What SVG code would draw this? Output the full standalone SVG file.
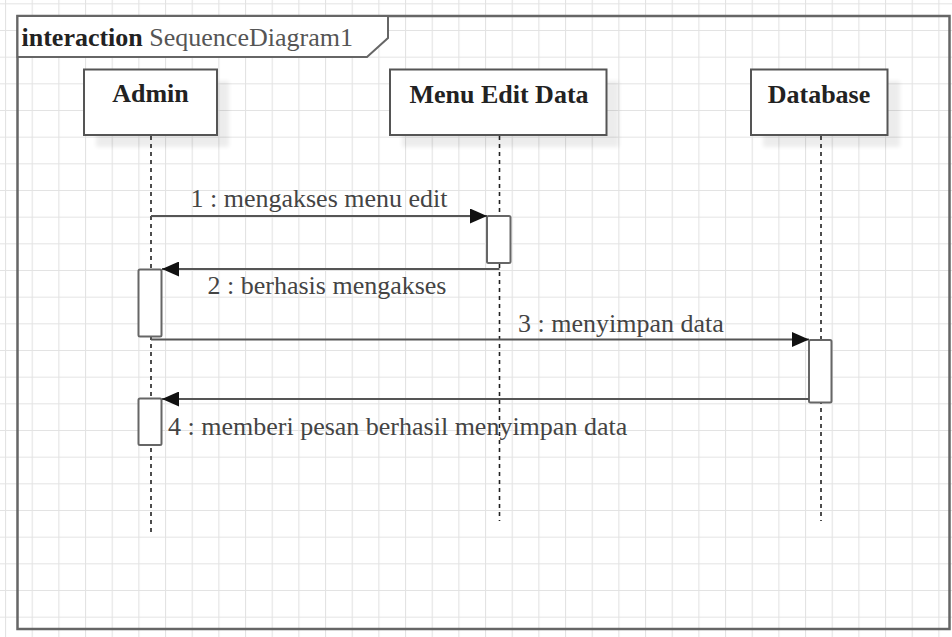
<svg xmlns="http://www.w3.org/2000/svg" width="952" height="637" viewBox="0 0 952 637">
  <defs>
    <pattern id="grid" patternUnits="userSpaceOnUse" x="5" y="3.33" width="26.667" height="26.667">
      <path d="M0 0.5 H26.667 M0.5 0 V26.667" fill="none" stroke="#e3e3e3" stroke-width="1.2"/>
    </pattern>
    <filter id="soft" x="-20%" y="-20%" width="140%" height="140%">
      <feGaussianBlur stdDeviation="2"/>
    </filter>
    <marker id="arrow" markerUnits="userSpaceOnUse" markerWidth="17" markerHeight="15" refX="17" refY="7.5" orient="auto">
      <path d="M0,0 L17,7.5 L0,15 Z" fill="#111"/>
    </marker>
    <style>
      .frame { fill: none; stroke: #666; stroke-width: 2.5; }
      .tab { fill: #fff; stroke: #666; stroke-width: 2; }
      .box { fill: #fff; stroke: #555; stroke-width: 2; }
      .shadow { fill: #000; opacity: 0.07; filter: url(#soft); }
      .act { fill: #fff; stroke: #666; stroke-width: 2; }
      .life { stroke: #222; stroke-width: 1.6; stroke-dasharray: 4 4; fill: none; }
      .msg { stroke: #555; stroke-width: 2; fill: none; marker-end: url(#arrow); }
      .name { font-family: "Liberation Serif", "Times New Roman", serif; font-weight: bold; font-size: 26px; fill: #222; text-anchor: middle; }
      .label { font-family: "Liberation Serif", "Times New Roman", serif; font-size: 26px; fill: #444; }
      .title { font-family: "Liberation Serif", "Times New Roman", serif; font-size: 26px; fill: #555; }
    </style>
  </defs>

  <!-- canvas grid -->
  <rect width="952" height="637" fill="#fff"/>
  <rect width="952" height="637" fill="url(#grid)"/>

  <!-- interaction frame -->
  <g id="frame">
    <rect class="frame" x="17.5" y="16" width="932" height="613"/>
    <polygon class="tab" points="17.5,16 388,16 388,38 367,57 17.5,57"/>
    <text class="title" x="21.5" y="45.5"><tspan font-weight="bold" fill="#222">interaction</tspan> SequenceDiagram1</text>
  </g>

  <!-- lifeline: Admin -->
  <g id="admin">
    <rect class="shadow" x="96" y="81" width="133" height="66"/>
    <rect class="box" x="84" y="69.5" width="133" height="65.5"/>
    <text class="name" x="150.5" y="102">Admin</text>
    <line class="life" x1="151" y1="136" x2="151" y2="532"/>
    <rect class="act" x="138.5" y="269.5" width="23" height="67" rx="1.5"/>
    <rect class="act" x="138.5" y="398.5" width="23" height="46.5" rx="1.5"/>
  </g>

  <!-- lifeline: Menu Edit Data -->
  <g id="menu-edit-data">
    <rect class="shadow" x="402" y="81" width="217" height="66"/>
    <rect class="box" x="390" y="69.5" width="216.5" height="65.5"/>
    <text class="name" x="499" y="102.5">Menu Edit Data</text>
    <line class="life" x1="499.5" y1="136" x2="499.5" y2="521"/>
    <rect class="act" x="487" y="216" width="23.5" height="47" rx="1.5"/>
  </g>

  <!-- lifeline: Database -->
  <g id="database">
    <rect class="shadow" x="763" y="81" width="137" height="66"/>
    <rect class="box" x="751" y="69.5" width="136.5" height="65.5"/>
    <text class="name" x="819" y="102.5">Database</text>
    <line class="life" x1="821" y1="136" x2="821" y2="521"/>
    <rect class="act" x="809" y="340" width="22.5" height="62.5" rx="1.5"/>
  </g>

  <!-- messages -->
  <g id="messages">
    <line class="msg" x1="151" y1="216" x2="487" y2="216"/>
    <text class="label" x="319" y="207" text-anchor="middle">1 : mengakses menu edit</text>

    <line class="msg" x1="499.5" y1="269" x2="162" y2="269"/>
    <text class="label" x="327" y="293.5" text-anchor="middle">2 : berhasis mengakses</text>

    <line class="msg" x1="151" y1="339.5" x2="809" y2="339.5"/>
    <text class="label" x="518" y="332">3 : menyimpan data</text>

    <line class="msg" x1="809" y1="399" x2="162" y2="399"/>
    <text class="label" x="168" y="435">4 : memberi pesan berhasil menyimpan data</text>
  </g>
</svg>
